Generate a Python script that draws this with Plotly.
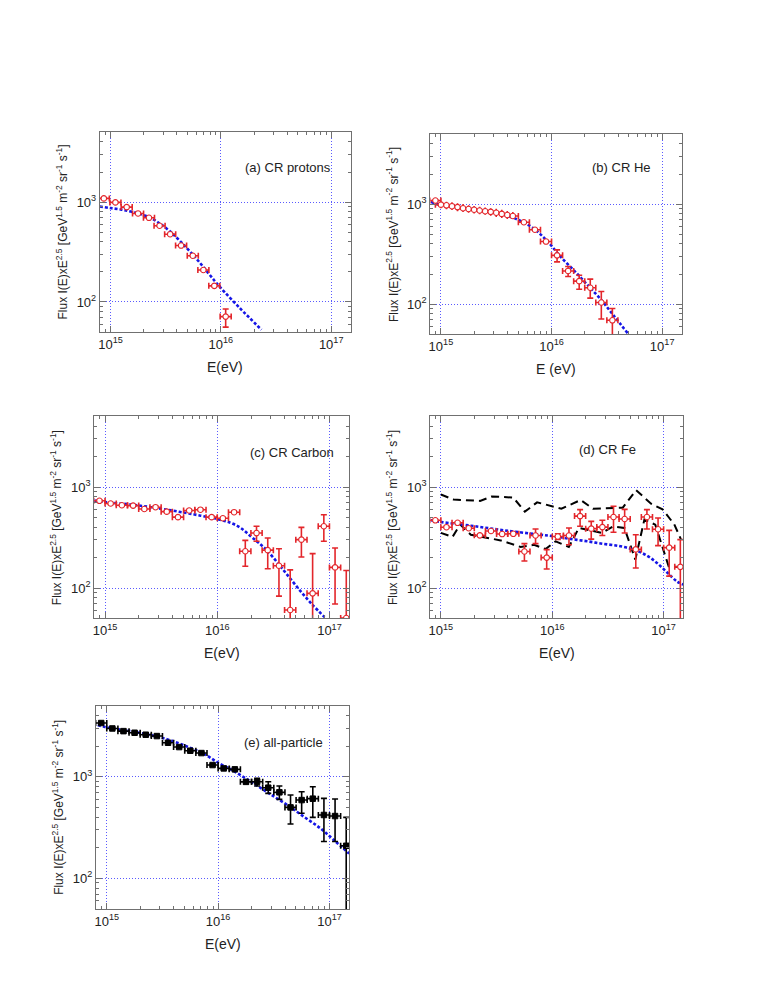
import math
import plotly.graph_objects as go

W, H = 766, 987

# ---------------- (a) CR protons ----------------
p_logE = [14.94, 15.045, 15.147, 15.25, 15.349, 15.445, 15.541, 15.64, 15.746, 15.842, 15.941, 16.044]
p_flux = [1089, 993, 891, 770, 696, 580, 477, 367, 290, 209, 145, 71.3]
p_hi = [1100, 1003, 900, 778, 703, 586, 482, 371, 293, 212, 148, 85]
p_lo = [1078, 983, 882, 762, 689, 574, 472, 363, 287, 206, 142, 56]
p_fit_logE = [14.903, 15.0, 15.1, 15.205, 15.349, 15.445, 15.541, 15.64, 15.746, 15.842, 15.941, 16.0, 16.167, 16.368]
p_fit_flux = [905, 871, 840, 794, 708, 611, 508, 397, 298, 224, 164, 138, 88, 52.7]

# ---------------- (b) CR He ----------------
he_logE = [14.95, 15.0, 15.05, 15.1, 15.15, 15.2, 15.25, 15.3, 15.35, 15.4, 15.45, 15.5, 15.55, 15.6, 15.65,
           15.75, 15.85, 15.95, 16.05, 16.15, 16.25, 16.35, 16.45, 16.55]
he_flux = [1088, 990, 975, 955, 935, 910, 895, 880, 865, 850, 838, 822, 800, 780, 762,
           660, 555, 423, 308, 215, 170, 146, 104, 69]
he_hi = [1100, 1000, 985, 965, 944, 919, 904, 888, 873, 858, 846, 830, 808, 788, 770,
         668, 563, 432, 349, 238, 195, 178, 134, 90.6]
he_lo = [1076, 980, 965, 945, 926, 901, 886, 872, 857, 842, 830, 814, 792, 772, 754,
         652, 547, 414, 265, 189, 141, 115, 71, 30]
he_fit_logE = [14.91, 15.0, 15.2, 15.42, 15.6, 15.72, 15.84, 15.93, 16.0, 16.083, 16.2, 16.32, 16.444, 16.564, 16.69]
he_fit_flux = [1055, 977, 905, 845, 765, 681, 571, 464, 383, 297, 219, 158, 112, 76.4, 51]

# ---------------- (c) CR Carbon ----------------
c_logE = [14.95, 15.05, 15.15, 15.25, 15.35, 15.45, 15.55, 15.65, 15.75, 15.85, 15.95, 16.05,
          16.15, 16.25, 16.35, 16.45, 16.55, 16.65, 16.75, 16.85, 16.95, 17.05, 17.15]
c_flux = [730, 686, 660, 654, 605, 631, 570, 503, 585, 596, 503, 490,
          563, 231, 350, 237, 166, 60.5, 301, 88.5, 409, 160, 50.5]
c_hi = [745, 700, 673, 667, 617, 644, 582, 514, 597, 608, 514, 500,
        575, 296, 408, 313, 245, 151, 398, 219, 532, 249, 149]
c_lo = [715, 672, 647, 641, 593, 618, 558, 492, 573, 584, 492, 480,
        551, 164, 290, 155, 83, 20, 203, 20, 290, 69.5, 20]
c_fit_logE = [14.905, 15.0, 15.29, 15.587, 15.853, 16.0, 16.12, 16.209, 16.298, 16.387, 16.446, 16.544,
              16.624, 16.742, 16.849, 16.956]
c_fit_flux = [733, 710, 658, 587, 520, 482, 441, 393, 325, 269, 234, 174, 135, 93, 68, 51.6]

# ---------------- (d) CR Fe ----------------
fe_logE = [14.95, 15.05, 15.15, 15.25, 15.35, 15.45, 15.55, 15.65, 15.75, 15.85, 15.95, 16.05,
           16.15, 16.25, 16.35, 16.45, 16.55, 16.65, 16.75, 16.85, 16.95, 17.05, 17.15]
fe_flux = [468, 400, 442, 391, 332, 367, 342, 344, 230, 331, 200, 323,
           331, 515, 387, 401, 505, 482, 241, 505, 382, 251, 162]
fe_hi = [476, 407, 450, 398, 338, 373, 348, 350, 275, 384, 240, 345,
         392, 597, 457, 468, 644, 600, 337, 597, 493, 372, 301]
fe_lo = [460, 393, 434, 384, 326, 361, 336, 338, 185, 275, 154, 302,
         268, 408, 305, 331, 356, 350, 158, 384, 263, 131, 20]
fe_fit_logE = [14.91, 15.0, 15.269, 15.567, 15.866, 16.015, 16.164, 16.313, 16.463, 16.612, 16.731, 16.851,
               16.94, 17.03, 17.12, 17.176]
fe_fit_flux = [468, 450, 414, 372, 340, 325, 306, 290, 273, 259, 240, 209, 177, 143, 116, 108]
fe_sys_hi_logE = [15.0, 15.113, 15.352, 15.456, 15.65, 15.754, 15.864, 15.963, 16.082, 16.255, 16.365,
                  16.633, 16.753, 16.887, 16.99, 17.095, 17.155]
fe_sys_hi_flux = [842, 752, 728, 805, 786, 570, 705, 663, 610, 743, 610, 624, 930, 684, 601, 427, 305]
fe_sys_lo_logE = [15.0, 15.104, 15.173, 15.269, 15.537, 15.716, 15.836, 15.94, 16.03, 16.149, 16.239,
                  16.343, 16.448, 16.546, 16.648, 16.746, 16.827, 16.925, 17.045, 17.164]
fe_sys_lo_flux = [351, 320, 424, 337, 296, 255, 268, 243, 290, 255, 393, 372, 351, 408, 393, 191, 475,
                  424, 164, 161]

# ---------------- (e) all-particle ----------------
all_logE = [14.95, 15.05, 15.15, 15.25, 15.35, 15.45, 15.55, 15.65, 15.75, 15.85, 15.95, 16.05,
            16.15, 16.25, 16.35, 16.45, 16.55, 16.65, 16.75, 16.85, 16.95, 17.05, 17.15]
all_flux = [3375, 2985, 2810, 2708, 2590, 2512, 2159, 1958, 1802, 1709, 1303, 1208,
            1181, 890, 893, 780, 702, 499, 589, 608, 420, 410, 209]
all_hi = [3440, 3040, 2860, 2756, 2635, 2555, 2196, 1992, 1834, 1740, 1328, 1232,
          1205, 930, 964, 893, 809, 661, 711, 797, 612, 603, 398]
all_lo = [3310, 2930, 2760, 2660, 2545, 2469, 2122, 1924, 1770, 1678, 1278, 1184,
          1157, 855, 809, 685, 598, 342, 437, 398, 230, 230, 20]
all_fit_logE = [14.919, 15.0, 15.278, 15.546, 15.725, 15.875, 16.0, 16.113, 16.233, 16.352, 16.472,
                16.621, 16.77, 16.919, 17.039, 17.176]
all_fit_flux = [3220, 3055, 2729, 2328, 1972, 1671, 1374, 1181, 985, 815, 669, 526, 404, 310, 238, 175]

BIN_HALF = 0.05  # half bin width in decades of energy

panel_labels = ["(a) CR protons", "(b) CR He", "(c) CR Carbon", "(d) CR Fe", "(e) all-particle"]
x_titles = ["E(eV)", "E (eV)", "E(eV)", "E(eV)", "E(eV)"]
y_title = "Flux I(E)xE<sup>2.5</sup> [GeV<sup>1.5</sup> m<sup>-2</sup> sr<sup>-1</sup> s<sup>-1</sup>]"
x_tickvals = [1e15, 1e16, 1e17]
x_ticktext = ["10<sup>15</sup>", "10<sup>16</sup>", "10<sup>17</sup>"]
y_tickvals = [100, 1000]
y_ticktext = ["10<sup>2</sup>", "10<sup>3</sup>"]

# panel boxes in pixels: (left, right, top, bottom)
boxes = [(90, 341.5, 124.3, 324.0),
         (421.3, 673.4, 126.3, 326.3),
         (84.4, 340.1, 408.4, 610.4),
         (421.2, 675.0, 408.4, 610.4),
         (86.2, 340.0, 697.7, 900.9)]
label_pos = [(234, 159.7), (582, 159.7), (238.7, 444.3), (568, 441.7), (233, 734.7)]

RED = "#e3262b"
BLUE = "#1515e6"
FRAME = "#707070"
GRID = "#5a5aff"
TXT = "#222222"
FONT = "Liberation Sans, Arial, sans-serif"

fig = go.Figure()


def ax_ids(i):
    s = "" if i == 0 else str(i + 1)
    return "x" + s, "y" + s


def add_fit(i, logE, flux):
    xa, ya = ax_ids(i)
    fig.add_trace(go.Scatter(x=[10 ** v for v in logE], y=flux, mode="lines", line_shape="spline",
                             line=dict(color=BLUE, width=2.6, dash="3px,2px"),
                             xaxis=xa, yaxis=ya, hoverinfo="skip"))


def add_band(i, logE, flux):
    xa, ya = ax_ids(i)
    fig.add_trace(go.Scatter(x=[10 ** v for v in logE], y=flux, mode="lines",
                             line=dict(color="black", width=2, dash="8px,5px"),
                             xaxis=xa, yaxis=ya, hoverinfo="skip"))


def add_data(i, logE, flux, hi, lo, filled=False):
    xa, ya = ax_ids(i)
    E = [10 ** v for v in logE]
    ex_p = [e * (10 ** BIN_HALF - 1) for e in E]
    ex_m = [e * (1 - 10 ** (-BIN_HALF)) for e in E]
    ey_p = [h - f for h, f in zip(hi, flux)]
    ey_m = [f - l for f, l in zip(flux, lo)]
    col = "black" if filled else RED
    if filled:
        marker = dict(symbol="square", size=5.5, color="black", line=dict(color="black", width=1))
    else:
        marker = dict(symbol="circle", size=5.5, color="white", line=dict(color=RED, width=1.1))
    fig.add_trace(go.Scatter(
        x=E, y=flux, mode="markers", marker=marker,
        error_x=dict(type="data", symmetric=False, array=ex_p, arrayminus=ex_m,
                     color=col, thickness=1.6, width=3),
        error_y=dict(type="data", symmetric=False, array=ey_p, arrayminus=ey_m,
                     color=col, thickness=1.6, width=3),
        xaxis=xa, yaxis=ya, hoverinfo="skip"))


add_fit(0, p_fit_logE, p_fit_flux)
add_data(0, p_logE, p_flux, p_hi, p_lo)

add_fit(1, he_fit_logE, he_fit_flux)
add_data(1, he_logE, he_flux, he_hi, he_lo)

add_fit(2, c_fit_logE, c_fit_flux)
add_data(2, c_logE, c_flux, c_hi, c_lo)

add_band(3, fe_sys_hi_logE, fe_sys_hi_flux)
add_band(3, fe_sys_lo_logE, fe_sys_lo_flux)
add_fit(3, fe_fit_logE, fe_fit_flux)
add_data(3, fe_logE, fe_flux, fe_hi, fe_lo)

add_fit(4, all_fit_logE, all_fit_flux)
add_data(4, all_logE, all_flux, all_hi, all_lo, filled=True)

x_minor = [m * 10 ** d for d in (14, 15, 16, 17) for m in range(2, 10)]
y_minor = [m * 10 ** d for d in (1, 2, 3) for m in range(2, 10)]

layout = dict(width=W, height=H, margin=dict(l=0, r=0, t=0, b=0),
              paper_bgcolor="white", plot_bgcolor="white", showlegend=False,
              font=dict(family=FONT, color=TXT, size=13))
annotations = []
for i, (l, r, t, b) in enumerate(boxes):
    s = "" if i == 0 else str(i + 1)
    layout["xaxis" + s] = dict(
        type="log", range=[math.log10(8e14), math.log10(1.5e17)],
        domain=[l / W, r / W], anchor="y" + s,
        showline=True, linecolor=FRAME, linewidth=1, mirror="ticks",
        ticks="inside", ticklen=6, tickcolor=FRAME, tickwidth=1,
        tickmode="array", tickvals=x_tickvals, ticktext=x_ticktext,
        tickfont=dict(size=13, color=TXT, family=FONT),
        showgrid=True, gridcolor=GRID, gridwidth=1, griddash="1px,2px", zeroline=False,
        minor=dict(tickmode="array", tickvals=x_minor, ticks="inside", ticklen=3,
                   tickcolor=FRAME, showgrid=False))
    layout["yaxis" + s] = dict(
        type="log", range=[math.log10(50), math.log10(5000)],
        domain=[1 - b / H, 1 - t / H], anchor="x" + s,
        showline=True, linecolor=FRAME, linewidth=1, mirror="ticks",
        ticks="inside", ticklen=6, tickcolor=FRAME, tickwidth=1,
        tickmode="array", tickvals=y_tickvals, ticktext=y_ticktext,
        tickfont=dict(size=13, color=TXT, family=FONT),
        showgrid=True, gridcolor=GRID, gridwidth=1, griddash="1px,2px", zeroline=False,
        minor=dict(tickmode="array", tickvals=y_minor, ticks="inside", ticklen=3,
                   tickcolor=FRAME, showgrid=False))
    # panel label
    lx, ly = label_pos[i]
    annotations.append(dict(text=panel_labels[i], x=lx / W, y=1 - ly / H, xref="paper", yref="paper",
                            xanchor="left", yanchor="middle", showarrow=False,
                            font=dict(size=13, color=TXT, family=FONT)))
    # x axis title
    annotations.append(dict(text=x_titles[i], x=(l + r) / 2 / W, y=1 - (b + 35) / H,
                            xref="paper", yref="paper", xanchor="center", yanchor="middle",
                            showarrow=False, font=dict(size=14, color=TXT, family=FONT)))
    # y axis title
    annotations.append(dict(text=y_title, x=(l - 37.5) / W, y=1 - (t + b) / 2 / H,
                            xref="paper", yref="paper", xanchor="center", yanchor="middle",
                            textangle=-90, showarrow=False,
                            font=dict(size=12, color=TXT, family=FONT)))
layout["annotations"] = annotations
fig.update_layout(**layout)
fig.write_html("out.html")
